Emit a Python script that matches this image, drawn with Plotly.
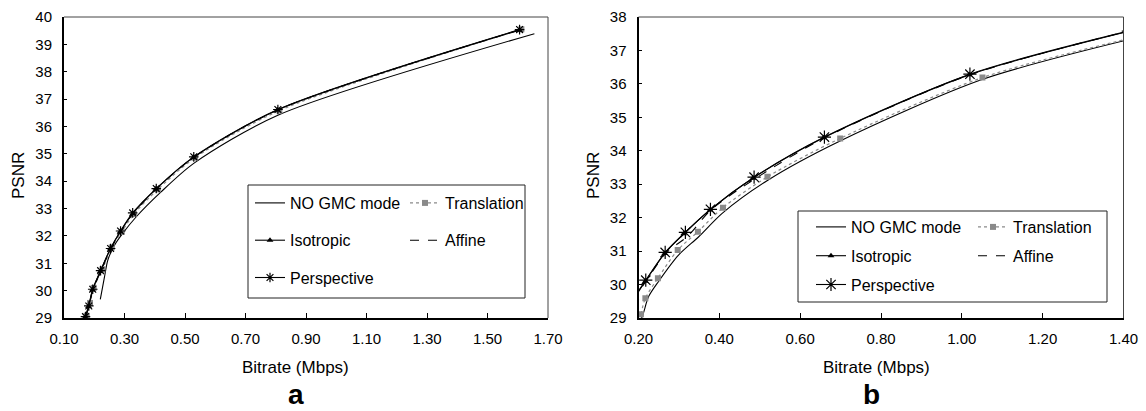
import plotly.graph_objects as go

# ---------------- data: chart (a) ----------------
a_nogmc_x = [0.220, 0.234, 0.245, 0.267, 0.294, 0.339, 0.420, 0.530, 0.807, 1.655]
a_nogmc_y = [29.68, 30.51, 31.12, 31.66, 32.09, 32.70, 33.60, 34.66, 36.41, 39.39]
a_trans_x = [0.175, 0.186, 0.198, 0.227, 0.258, 0.291, 0.331, 0.410, 0.533, 0.812, 1.612]
a_trans_y = [29.08, 29.55, 30.10, 30.78, 31.58, 32.15, 32.80, 33.70, 34.86, 36.58, 39.55]
a_iso_x = [0.170, 0.181, 0.194, 0.220, 0.253, 0.286, 0.328, 0.404, 0.528, 0.806, 1.605]
a_iso_y = [29.03, 29.42, 30.02, 30.70, 31.52, 32.15, 32.82, 33.71, 34.87, 36.60, 39.52]
a_aff_x = [0.172, 0.183, 0.196, 0.222, 0.255, 0.288, 0.329, 0.406, 0.530, 0.808, 1.607]
a_aff_y = [29.04, 29.45, 30.04, 30.72, 31.53, 32.17, 32.83, 33.72, 34.88, 36.61, 39.53]
a_pers_x = [0.171, 0.182, 0.195, 0.221, 0.254, 0.287, 0.327, 0.405, 0.529, 0.807, 1.606]
a_pers_y = [29.05, 29.44, 30.05, 30.73, 31.54, 32.18, 32.84, 33.73, 34.89, 36.62, 39.54]

# ---------------- data: chart (b) ----------------
b_nogmc_x = [0.203, 0.212, 0.225, 0.250, 0.299, 0.349, 0.407, 0.520, 0.700, 1.050, 1.412]
b_nogmc_y = [28.85, 29.14, 29.64, 30.10, 30.88, 31.43, 32.13, 33.12, 34.30, 36.13, 37.32]
b_trans_x = [0.206, 0.217, 0.248, 0.297, 0.347, 0.409, 0.519, 0.699, 1.051, 1.412]
b_trans_y = [29.11, 29.59, 30.19, 31.03, 31.58, 32.30, 33.22, 34.37, 36.19, 37.35]
b_iso_x = [0.185, 0.217, 0.265, 0.312, 0.377, 0.483, 0.658, 1.018, 1.412]
b_iso_y = [29.50, 30.10, 30.93, 31.52, 32.23, 33.18, 34.39, 36.27, 37.57]
b_aff_x = [0.185, 0.219, 0.268, 0.322, 0.380, 0.488, 0.662, 1.022, 1.412]
b_aff_y = [29.50, 30.11, 30.94, 31.45, 32.24, 33.16, 34.40, 36.28, 37.58]
b_pers_x = [0.185, 0.218, 0.266, 0.316, 0.378, 0.486, 0.660, 1.020, 1.412]
b_pers_y = [29.55, 30.13, 30.96, 31.56, 32.25, 33.21, 34.41, 36.29, 37.58]

a_xticks = [0.10, 0.30, 0.50, 0.70, 0.90, 1.10, 1.30, 1.50, 1.70]
b_xticks = [0.20, 0.40, 0.60, 0.80, 1.00, 1.20, 1.40]
a_yticks = list(range(29, 41))
b_yticks = list(range(29, 39))

FONT = "Liberation Sans, Arial, sans-serif"
W, H = 1146, 411

fig = go.Figure()


def add_series(xa, ya, sx, sy, leg1, leg2, msize):
    spec = [
        ("NO GMC mode", sx[0], sy[0], dict(color="black", width=1.1, dash="solid"), None, leg1),
        ("Translation", sx[1], sy[1], dict(color="#8a8a8a", width=1.2, dash="dot"),
         dict(symbol="square", size=6, color="#8a8a8a"), leg2),
        ("Isotropic", sx[2], sy[2], dict(color="black", width=1.1, dash="solid"),
         dict(symbol="triangle-up", size=6, color="black"), leg1),
        ("Affine", sx[3], sy[3], dict(color="black", width=1.1, dash="dash"), None, leg2),
        ("Perspective", sx[4], sy[4], dict(color="black", width=1.1, dash="solid"),
         dict(symbol="asterisk-open", size=msize, color="black", line=dict(color="black", width=1.2)), leg1),
    ]
    for name, x, y, line, marker, leg in spec:
        fig.add_trace(go.Scatter(
            x=x, y=y, name=name, xaxis=xa, yaxis=ya,
            mode="lines+markers" if marker else "lines",
            line=dict(shape="spline", smoothing=0.8, **line),
            marker=marker, legend=leg, legendgroup=leg + name,
        ))


add_series("x", "y",
           [a_nogmc_x, a_trans_x, a_iso_x, a_aff_x, a_pers_x],
           [a_nogmc_y, a_trans_y, a_iso_y, a_aff_y, a_pers_y],
           "legend", "legend2", 8)
add_series("x2", "y2",
           [b_nogmc_x, b_trans_x, b_iso_x, b_aff_x, b_pers_x],
           [b_nogmc_y, b_trans_y, b_iso_y, b_aff_y, b_pers_y],
           "legend3", "legend4", 11)

axis_common = dict(showline=True, linewidth=2, linecolor="black", showgrid=False,
                   zeroline=False, ticks="inside", tickcolor="black", tickwidth=1,
                   tickfont=dict(family=FONT, size=15, color="black"), automargin=False)

fig.update_layout(
    width=W, height=H, margin=dict(l=0, r=0, t=0, b=0),
    paper_bgcolor="white", plot_bgcolor="white",
    font=dict(family=FONT, color="black"),
    xaxis=dict(domain=[64 / W, 548 / W], range=[0.10, 1.70], tickvals=a_xticks,
               tickformat=".2f", ticklen=5, ticklabelstandoff=6, anchor="y", **axis_common),
    yaxis=dict(domain=[1 - 318 / H, 1 - 17 / H], range=[29, 40], tickvals=a_yticks,
               ticklen=3, ticklabelstandoff=7, anchor="x", **axis_common),
    xaxis2=dict(domain=[638.5 / W, 1123.5 / W], range=[0.20, 1.40], tickvals=b_xticks,
                tickformat=".2f", ticklen=5, ticklabelstandoff=6, anchor="y2", **axis_common),
    yaxis2=dict(domain=[1 - 318 / H, 1 - 17 / H], range=[29, 38], tickvals=b_yticks,
                ticklen=3, ticklabelstandoff=7, anchor="x2", **axis_common),
)

leg_common = dict(bgcolor="rgba(0,0,0,0)", borderwidth=0, xanchor="left", yanchor="top",
                  xref="paper", yref="paper", itemwidth=30, traceorder="grouped",
                  font=dict(family=FONT, size=16, color="black"))
fig.update_layout(
    legend=dict(x=250 / W, y=1 - 186 / H, tracegroupgap=13.5, **leg_common),
    legend2=dict(x=405 / W, y=1 - 186 / H, tracegroupgap=13.5, **leg_common),
    legend3=dict(x=811 / W, y=1 - 210 / H, tracegroupgap=5, **leg_common),
    legend4=dict(x=973 / W, y=1 - 210 / H, tracegroupgap=5, **leg_common),
)

shapes = []
for xr, yr in (("x domain", "y domain"), ("x2 domain", "y2 domain")):
    shapes.append(dict(type="line", xref=xr, yref=yr, x0=0, x1=1, y0=1, y1=1,
                       line=dict(color="#444", width=1)))
    shapes.append(dict(type="line", xref=xr, yref=yr, x0=1, x1=1, y0=0, y1=1,
                       line=dict(color="#444", width=1)))
for (x0, y0, x1, y1) in ((248, 185, 525, 298), (798, 211, 1107, 302)):
    shapes.append(dict(type="rect", xref="paper", yref="paper",
                       x0=x0 / W, x1=x1 / W, y0=1 - y1 / H, y1=1 - y0 / H,
                       line=dict(color="#222", width=1), fillcolor="white", layer="above"))
fig.update_layout(shapes=shapes)


def ann(text, px, py, size, bold=False, angle=0):
    return dict(text=f"<b>{text}</b>" if bold else text, x=px / W, y=1 - py / H,
                xref="paper", yref="paper", showarrow=False, textangle=angle,
                xanchor="center", yanchor="middle",
                font=dict(family=FONT, size=size, color="black"))


fig.update_layout(annotations=[
    ann("PSNR", 19, 176, 17, angle=-90),
    ann("PSNR", 594, 176, 17, angle=-90),
    ann("Bitrate (Mbps)", 295, 367, 17),
    ann("Bitrate (Mbps)", 876, 367, 17),
    ann("a", 296, 394, 28, bold=True),
    ann("b", 871, 394, 28, bold=True),
])

fig.write_html(
    "out.html",
    config={"displayModeBar": False},
    post_script="document.body.style.margin='0';document.body.style.padding='0';"
                "document.documentElement.style.overflow='hidden';",
)
